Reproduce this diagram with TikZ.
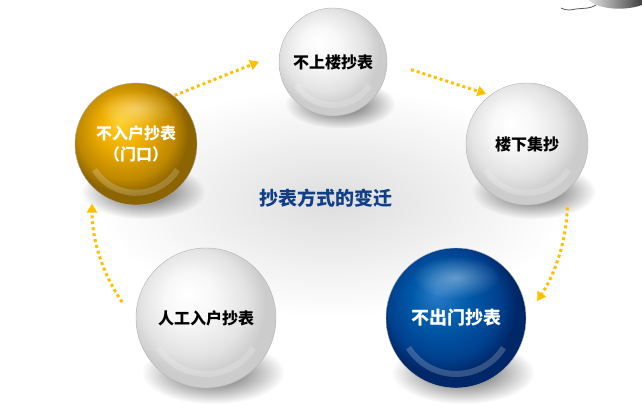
\documentclass[tikz,border=0pt]{standalone}
\usepackage{fontspec}
\newfontfamily\cjk{Noto Sans CJK SC}
\usetikzlibrary{arrows.meta,fadings}

\definecolor{dotgold}{RGB}{255,192,0}
\definecolor{titleblue}{RGB}{16,62,135}
\definecolor{goldlite}{RGB}{255,208,40}
\definecolor{goldmid}{RGB}{236,172,0}
\definecolor{golddark}{RGB}{190,136,0}
\definecolor{goldedge}{RGB}{140,100,0}
\definecolor{bluelite}{RGB}{45,125,200}
\definecolor{bluemid}{RGB}{0,90,170}
\definecolor{bluedark}{RGB}{0,64,142}
\definecolor{blueedge}{RGB}{0,40,104}

\pgfdeclareradialshading{whiteball}{\pgfpoint{-7bp}{9bp}}{%
  color(0bp)=(white); color(9bp)=(white!97!black); color(19bp)=(white!89!black);
  color(25bp)=(white!80!black); color(50bp)=(white!80!black)}
\pgfdeclareradialshading{goldball}{\pgfpoint{-7bp}{9bp}}{%
  color(0bp)=(goldlite); color(10bp)=(goldmid); color(20bp)=(golddark);
  color(25bp)=(goldedge); color(50bp)=(goldedge)}
\pgfdeclareradialshading{blueball}{\pgfpoint{-7bp}{9bp}}{%
  color(0bp)=(bluelite); color(10bp)=(bluemid); color(20bp)=(bluedark);
  color(25bp)=(blueedge); color(50bp)=(blueedge)}

\tikzfading[name=softshade, inner color=transparent!15, outer color=transparent!100]

\begin{document}
\begin{tikzpicture}[
    x=1pt, y=1pt,
    ball/.style={circle, draw=black!30, line width=0.4pt, inner sep=0pt, align=center,
        font=\cjk\bfseries\fontsize{16}{21}\selectfont},
    flow/.style={dotgold, line width=3pt, dash pattern=on 3pt off 3pt,
        -{Triangle[length=9pt,width=10pt]}},
    drop/.style={fill=black!80, path fading=softshade},
    gloss/.style={white, opacity=.2, line width=6pt}
]
\useasboundingbox (0,0) rectangle (642,414);

\shade[inner color=black!13, outer color=white] (332,212) ellipse (235 and 115);

\shade[left color=black!10, right color=black!75] (588,414) .. controls (600,404) and (625,403) .. (642,409) -- (642,414) -- cycle;
\draw[black!65, line width=0.8pt] (561,406) .. controls (568,403) and (570,404) .. (576,405) .. controls (584,406) and (590,405) .. (596,409);

\foreach \cx/\cy/\r in {136/270/61, 333/352/54, 527/270/61, 456/96/70, 206/96/70}
    \fill[drop] ({\cx+7},{\cy-0.78*\r}) ellipse ({1.02*\r} and {0.45*\r});

\node[ball, shading=goldball, minimum size=122pt, text=white] (door) at (136,270) {不入户抄表\\（门口）};
\node[ball, shading=whiteball, minimum size=108pt] (upstairs) at (333,352) {不上楼抄表};
\node[ball, shading=whiteball, minimum size=122pt] (downstairs) at (527,270) {楼下集抄};
\node[ball, shading=blueball, minimum size=140pt, text=white, font=\cjk\bfseries\fontsize{18}{22}\selectfont] (nodoor) at (456,96) {不出门抄表};
\node[ball, shading=whiteball, minimum size=140pt] (manual) at (206,96) {人工入户抄表};

\node[text=titleblue, font=\cjk\bfseries\fontsize{19}{22}\selectfont] (title) at (326,216) {抄表方式的变迁};

\foreach \n/\r in {door/61, upstairs/54, downstairs/61, nodoor/70, manual/70}
    \draw[gloss] (\n.center) ++(212:{0.8*\r pt}) arc[start angle=212, end angle=328, radius={0.8*\r pt}];
\foreach \n/\r in {door/61, nodoor/70}
    \fill[white, opacity=.45, path fading=softshade] ([yshift={0.58*\r pt}]\n.center) ellipse ({0.62*\r} and {0.3*\r});

\draw[flow, shorten <=1pt, shorten >=22pt] (door.52) -- (upstairs.171);
\draw[flow, shorten <=25pt, shorten >=4pt] (upstairs.east) -- (downstairs.127);
\draw[flow, shorten <=18pt, shorten >=20pt] (downstairs.-48) to[out=-92, in=57] (nodoor.east);
\draw[flow, shorten <=24pt, shorten >=17pt] (manual.183) to[out=125, in=-90] (door.224);

\end{tikzpicture}
\end{document}
